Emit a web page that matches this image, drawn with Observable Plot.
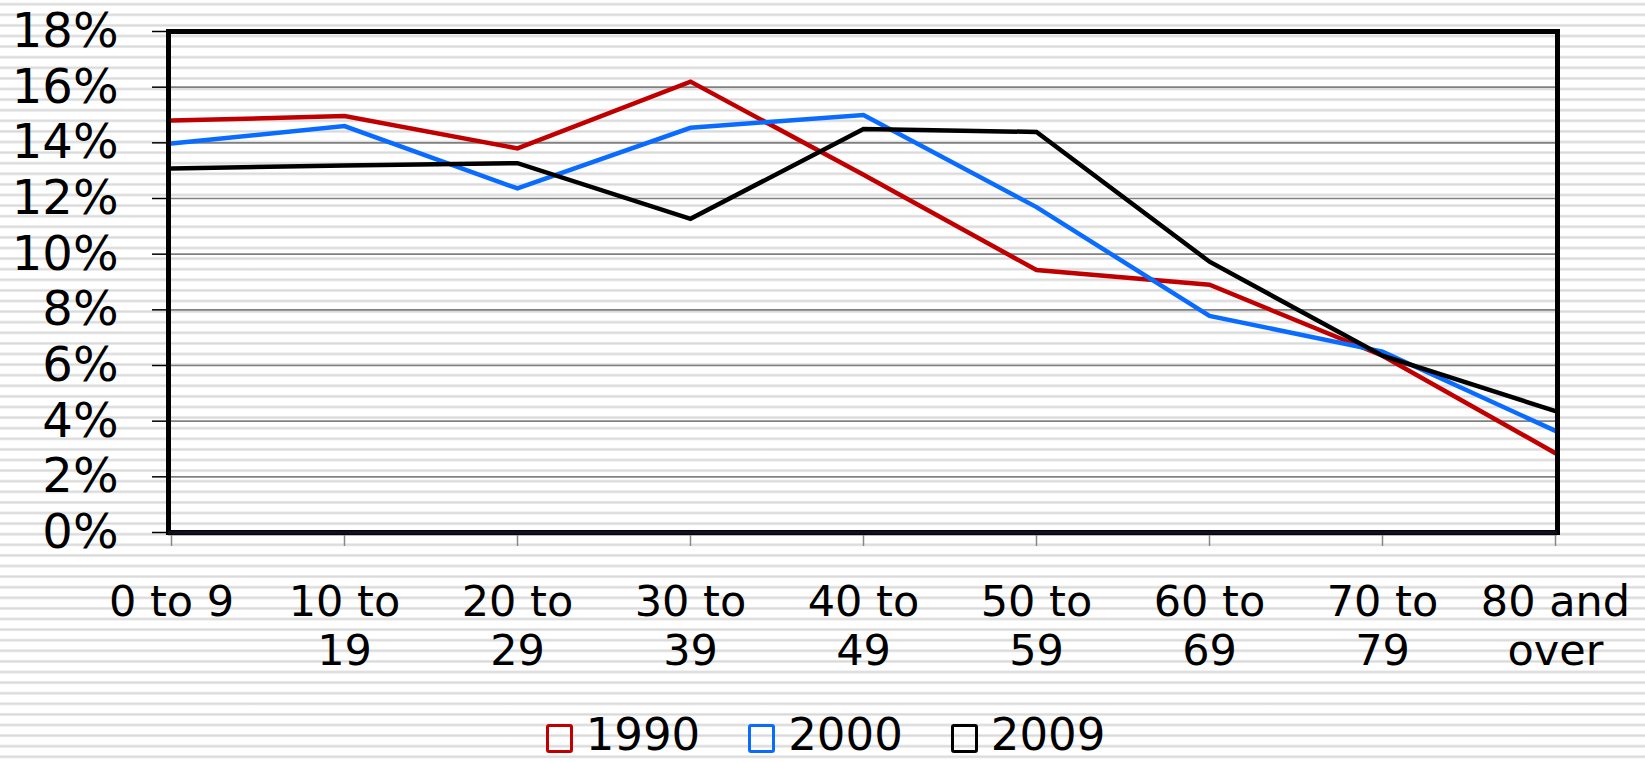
<!DOCTYPE html>
<html>
<head>
<meta charset="utf-8">
<script src="https://cdn.jsdelivr.net/npm/d3@7"></script>
<script src="https://cdn.jsdelivr.net/npm/@observablehq/plot@0.6"></script>
<style>
  html, body { margin: 0; padding: 0; }
  body {
    position: relative;
    width: 1645px; height: 762px; overflow: hidden;
    font-family: "DejaVu Sans", Verdana, sans-serif;
    background: repeating-linear-gradient(to bottom,
      #ffffff 0px, #ffffff 2.2px, #e8e8e8 3.1px, #d8d8d8 4.2px, #e8e8e8 5.3px, #ffffff 6.2px, #ffffff 10.6px);
  }
  #chart svg { display: block; background: transparent; }
  #legend {
    position: absolute; left: 0; top: 715px; width: 1645px; height: 40px;
    display: flex; justify-content: center; align-items: center;
    padding-left: 6px; box-sizing: border-box;
  }
  .item { display: flex; align-items: center; font-size: 45px; height: 40px; line-height: 40px; color: #000; margin: 0 24px; }
  .sw { box-sizing: border-box; width: 27px; height: 29px; border: 3.5px solid; border-radius: 3px; margin-right: 13px; margin-top: 6px; background: transparent; }
</style>
</head>
<body>
<div id="chart"></div>
<div id="legend"></div>
<script>
const ages = ["0-9", "10-19", "20-29", "30-39", "40-49", "50-59", "60-69", "70-79", "80+"];
const ageLabels = ["0 to 9", "10 to\n19", "20 to\n29", "30 to\n39", "40 to\n49", "50 to\n59", "60 to\n69", "70 to\n79", "80 and\nover"];
const years = ["1990", "2000", "2009"];
const colors = ["#c00000", "#0a6cff", "#000000"];
const v1990 = [14.8, 14.96, 13.8, 16.2, 12.85, 9.43, 8.9, 6.35, 2.85];
const v2000 = [13.98, 14.6, 12.36, 14.54, 15.0, 11.69, 7.78, 6.5, 3.65];
const v2009 = [13.08, 13.19, 13.27, 11.27, 14.5, 14.39, 9.73, 6.35, 4.36];
const yTicks = [0, 2, 4, 6, 8, 10, 12, 14, 16, 18];

const series = [v1990, v2000, v2009];
const data = [];
years.forEach((yr, i) => ages.forEach((a, j) => data.push({year: yr, age: a, value: series[i][j]})));
const labelOf = Object.fromEntries(ages.map((a, i) => [a, ageLabels[i]]));

const chart = Plot.plot({
  width: 1645,
  height: 700,
  marginTop: 31,
  marginBottom: 168,
  marginLeft: 168,
  marginRight: 88,
  style: {background: "transparent", fontFamily: "DejaVu Sans, Verdana, sans-serif", overflow: "visible"},
  x: {type: "point", domain: ages, padding: 0},
  y: {domain: [0, 18]},
  color: {domain: years, range: colors},
  marks: [
    Plot.gridY(yTicks.slice(1), {stroke: "#808080", strokeOpacity: 1, strokeWidth: 1.6}),
    Plot.axisY(yTicks, {tickSize: 16, tickPadding: 34, fontSize: 48, tickFormat: d => d + "%", stroke: "#000", strokeWidth: 1.5, label: null}),
    Plot.axisX(ages, {tickSize: 14, tickPadding: 35, fontSize: 43, lineHeight: 1.14, tickFormat: d => labelOf[d], stroke: "#888", strokeWidth: 1.5, label: null}),
    Plot.ruleY([0], {stroke: "#888", strokeWidth: 2, dy: 2}),
    Plot.line(data, {x: "age", y: "value", z: "year", stroke: "year", strokeWidth: 4.5, strokeLinejoin: "miter", strokeMiterlimit: 2}),
    Plot.frame({stroke: "#000", strokeWidth: 5}),
    Plot.ruleY([0], {stroke: "#10101e", strokeWidth: 3.5})
  ]
});
document.getElementById("chart").appendChild(chart);

const legend = document.getElementById("legend");
years.forEach((yr, i) => {
  const item = document.createElement("div");
  item.className = "item";
  const sw = document.createElement("span");
  sw.className = "sw";
  sw.style.borderColor = colors[i];
  item.appendChild(sw);
  item.appendChild(document.createTextNode(yr));
  legend.appendChild(item);
});
</script>
</body>
</html>
